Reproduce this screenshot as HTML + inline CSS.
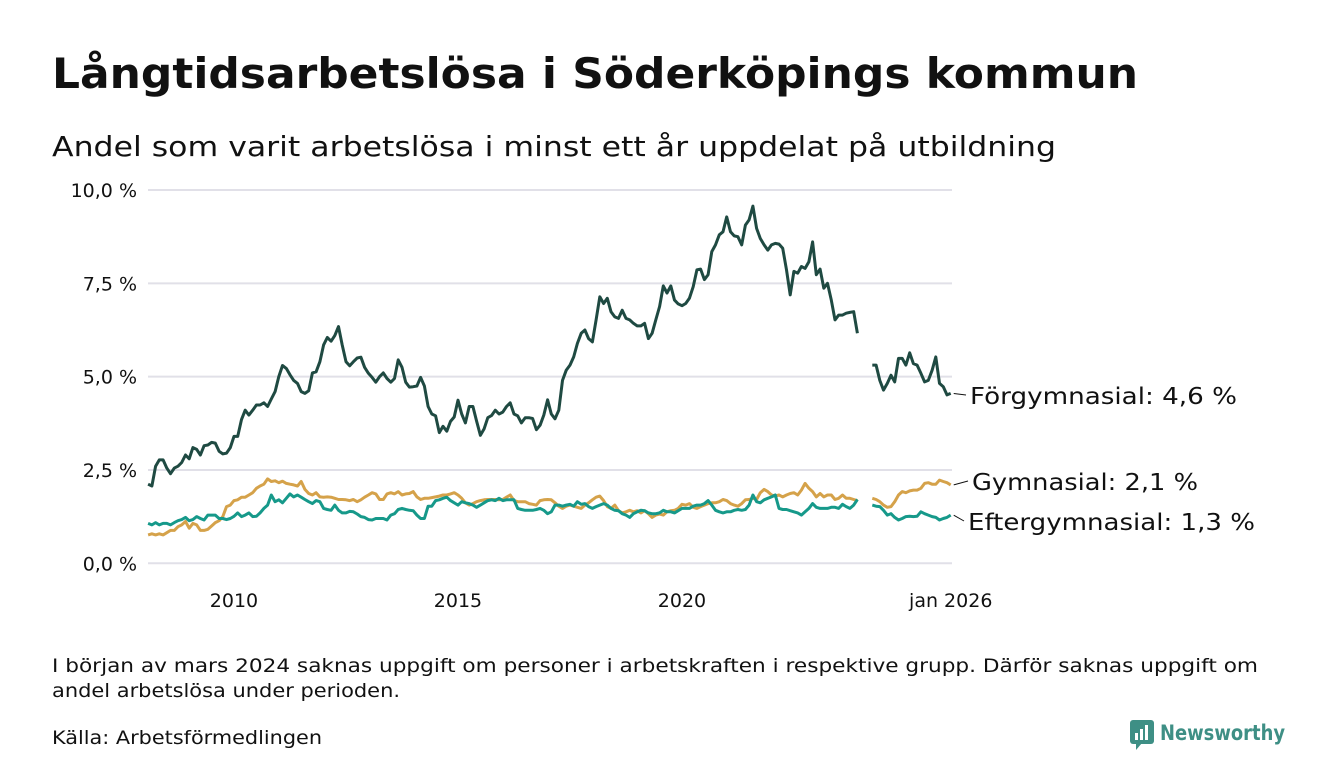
<!DOCTYPE html>
<html><head><meta charset="utf-8"><style>
body{margin:0;background:#fff;}
svg{display:block;font-family:"DejaVu Sans","Liberation Sans",sans-serif;}
</style></head><body>
<svg id="chart" width="1340" height="780" viewBox="0 0 1340 780" xmlns="http://www.w3.org/2000/svg">
<text x="52" y="88" font-size="42" font-weight="bold" fill="#111" textLength="1086" lengthAdjust="spacingAndGlyphs">Långtidsarbetslösa i Söderköpings kommun</text>
<text x="52" y="156" font-size="28" fill="#111" textLength="1004" lengthAdjust="spacingAndGlyphs">Andel som varit arbetslösa i minst ett år uppdelat på utbildning</text>
<g id="grid"></g>
<g id="yticks"></g>
<g id="xticks"></g>
<g id="series"></g>
<g id="labels"></g>
<text font-size="19" fill="#111"><tspan x="52" y="672" textLength="1206" lengthAdjust="spacingAndGlyphs">I början av mars 2024 saknas uppgift om personer i arbetskraften i respektive grupp. Därför saknas uppgift om</tspan><tspan x="52" y="697" textLength="348" lengthAdjust="spacingAndGlyphs">andel arbetslösa under perioden.</tspan></text>
<text x="52" y="744" font-size="19" fill="#111" textLength="270" lengthAdjust="spacingAndGlyphs">Källa: Arbetsförmedlingen</text>
<g>
<rect x="1130" y="720" width="24" height="24" rx="3" fill="#3e8f85"/>
<path d="M1136 743 L1136 750 L1142 743 Z" fill="#3e8f85"/>
<rect x="1135" y="733" width="3" height="7" fill="#fff"/><rect x="1140" y="729" width="3" height="11" fill="#fff"/><rect x="1145" y="725" width="3" height="15" fill="#fff"/>
<text x="1160" y="740" font-size="21" font-weight="bold" fill="#3e8f85" textLength="125" lengthAdjust="spacingAndGlyphs">Newsworthy</text>
</g>
</svg>
<script>
const yTicks = [0, 2.5, 5, 7.5, 10];
const yTickLabels = ["0,0 %", "2,5 %", "5,0 %", "7,5 %", "10,0 %"];
const xTickMonths = [24, 84, 144, 216];
const xTickLabels = ["2010", "2015", "2020", "jan 2026"];
const startMonth = 1; // months since Jan 2008 (Feb 2008)
const forgymnasial = [2.12,2.07,2.6,2.77,2.77,2.55,2.4,2.55,2.6,2.7,2.9,2.8,3.1,3.05,2.9,3.15,3.17,3.24,3.22,3.0,2.93,2.95,3.1,3.4,3.4,3.85,4.1,3.97,4.1,4.24,4.24,4.3,4.2,4.4,4.6,5.0,5.3,5.22,5.05,4.9,4.82,4.6,4.55,4.62,5.1,5.13,5.4,5.85,6.05,5.95,6.1,6.34,5.85,5.4,5.29,5.4,5.5,5.52,5.25,5.09,4.98,4.85,5.0,5.1,4.95,4.85,4.95,5.45,5.25,4.85,4.72,4.73,4.75,4.98,4.75,4.2,4.0,3.95,3.5,3.67,3.54,3.8,3.92,4.37,4.0,3.76,4.2,4.2,3.81,3.43,3.6,3.9,3.96,4.1,4.0,4.05,4.2,4.3,4.0,3.95,3.76,3.9,3.9,3.88,3.58,3.7,3.97,4.38,4.0,3.87,4.1,4.9,5.17,5.31,5.53,5.89,6.16,6.25,6.02,5.93,6.52,7.14,6.96,7.1,6.74,6.6,6.56,6.78,6.56,6.52,6.43,6.36,6.36,6.43,6.02,6.16,6.52,6.88,7.43,7.24,7.43,7.05,6.95,6.9,6.96,7.1,7.41,7.86,7.88,7.6,7.73,8.35,8.53,8.8,8.88,9.28,8.88,8.77,8.75,8.53,9.06,9.2,9.57,8.97,8.7,8.53,8.39,8.53,8.57,8.55,8.44,7.86,7.19,7.82,7.77,7.95,7.9,8.08,8.61,7.73,7.88,7.37,7.5,7.05,6.52,6.65,6.65,6.7,6.72,6.74,6.16,null,null,null,5.31,5.31,4.9,4.64,4.82,5.04,4.86,5.49,5.49,5.31,5.64,5.35,5.31,5.09,4.86,4.9,5.17,5.53,4.82,4.73,4.51,4.55];
const gymnasial = [0.76,0.79,0.76,0.79,0.76,0.82,0.88,0.88,0.98,1.03,1.12,0.94,1.07,1.03,0.88,0.88,0.91,1.0,1.09,1.14,1.25,1.52,1.56,1.68,1.7,1.77,1.77,1.83,1.89,2.01,2.07,2.12,2.26,2.19,2.21,2.16,2.2,2.14,2.12,2.1,2.07,2.19,1.98,1.87,1.83,1.89,1.78,1.77,1.78,1.77,1.74,1.71,1.71,1.7,1.68,1.71,1.65,1.7,1.77,1.83,1.89,1.86,1.71,1.71,1.86,1.89,1.86,1.92,1.83,1.86,1.87,1.92,1.78,1.71,1.74,1.74,1.76,1.78,1.8,1.83,1.83,1.86,1.89,1.83,1.74,1.62,1.56,1.6,1.65,1.68,1.7,1.71,1.71,1.71,1.7,1.71,1.77,1.83,1.68,1.65,1.65,1.65,1.6,1.58,1.56,1.68,1.7,1.71,1.7,1.62,1.53,1.47,1.53,1.56,1.53,1.5,1.47,1.56,1.62,1.7,1.77,1.8,1.68,1.52,1.47,1.56,1.41,1.35,1.38,1.42,1.38,1.41,1.35,1.41,1.33,1.23,1.29,1.32,1.29,1.38,1.41,1.42,1.47,1.58,1.56,1.6,1.5,1.47,1.52,1.56,1.6,1.62,1.62,1.65,1.71,1.68,1.6,1.56,1.53,1.6,1.7,1.71,1.74,1.71,1.89,1.98,1.92,1.83,1.8,1.83,1.78,1.83,1.87,1.89,1.83,1.96,2.14,2.01,1.92,1.78,1.87,1.78,1.83,1.83,1.71,1.74,1.83,1.74,1.74,1.71,1.68,null,null,null,1.74,1.71,1.65,1.56,1.5,1.52,1.65,1.83,1.92,1.89,1.94,1.96,1.96,2.01,2.14,2.16,2.12,2.12,2.23,2.19,2.16,2.1];
const eftergymnasial = [1.07,1.03,1.09,1.03,1.07,1.07,1.03,1.09,1.14,1.17,1.23,1.14,1.17,1.25,1.2,1.16,1.29,1.29,1.29,1.2,1.2,1.17,1.2,1.26,1.35,1.25,1.29,1.35,1.25,1.26,1.35,1.47,1.56,1.83,1.65,1.7,1.62,1.74,1.86,1.78,1.83,1.77,1.71,1.65,1.6,1.68,1.65,1.47,1.44,1.42,1.56,1.42,1.35,1.35,1.39,1.38,1.32,1.25,1.23,1.17,1.16,1.2,1.2,1.2,1.16,1.29,1.33,1.44,1.47,1.44,1.42,1.41,1.29,1.2,1.2,1.53,1.53,1.68,1.7,1.74,1.77,1.68,1.62,1.56,1.65,1.62,1.6,1.56,1.5,1.56,1.62,1.68,1.7,1.68,1.74,1.68,1.7,1.7,1.7,1.47,1.44,1.42,1.42,1.42,1.44,1.47,1.42,1.33,1.38,1.56,1.56,1.53,1.56,1.58,1.53,1.65,1.58,1.6,1.52,1.47,1.52,1.56,1.6,1.56,1.47,1.42,1.41,1.33,1.29,1.23,1.33,1.38,1.42,1.41,1.35,1.33,1.33,1.35,1.42,1.38,1.38,1.35,1.41,1.47,1.47,1.47,1.53,1.56,1.56,1.6,1.68,1.56,1.42,1.38,1.35,1.38,1.38,1.42,1.44,1.42,1.44,1.56,1.83,1.65,1.62,1.7,1.74,1.78,1.83,1.47,1.44,1.44,1.41,1.38,1.35,1.29,1.38,1.47,1.6,1.5,1.47,1.47,1.47,1.5,1.5,1.47,1.58,1.52,1.47,1.56,1.71,null,null,null,1.56,1.53,1.52,1.42,1.29,1.33,1.23,1.16,1.2,1.25,1.26,1.25,1.26,1.38,1.33,1.29,1.25,1.23,1.16,1.2,1.23,1.29];
const seriesNames = ["Förgymnasial", "Gymnasial", "Eftergymnasial"];
const lastLabels = ["Förgymnasial: 4,6 %", "Gymnasial: 2,1 %", "Eftergymnasial: 1,3 %"];

const NS = "http://www.w3.org/2000/svg";
const X0 = 144.4, MPX = 3.733, Y0 = 563.3, YPX = 37.33;
function xScale(m){ return X0 + m*MPX; }
function yScale(v){ return Y0 - v*YPX; }
function mk(tag, attrs, parent){ const e=document.createElementNS(NS,tag); for(const k in attrs) e.setAttribute(k,attrs[k]); parent.appendChild(e); return e; }

const grid=document.getElementById('grid'), yt=document.getElementById('yticks'), xt=document.getElementById('xticks');
yTicks.forEach((v,i)=>{
  const l=mk('line',{x1:148,x2:952,y1:yScale(v),y2:yScale(v),stroke:'#e1e0e8','stroke-width':2},grid);
  
  
  const t=mk('text',{x:137,y:yScale(v)+7,'text-anchor':'end','font-size':19,fill:'#111'},yt);
  t.textContent=yTickLabels[i];
  
  
});
xTickMonths.forEach((m,i)=>{
  const t=mk('text',{x:xScale(m),y:607,'text-anchor':'middle','font-size':19,fill:'#111'},xt);
  t.textContent=xTickLabels[i];
  
  
});
const colors=['#1f4a42','#d5a24a','#16998a'];
const data=[forgymnasial,gymnasial,eftergymnasial];
const sg=document.getElementById('series');
data.forEach((arr,si)=>{
  let d='', pen=false;
  arr.forEach((v,i)=>{
    if(v===null){pen=false;return;}
    d+=(pen?'L':'M')+xScale(startMonth+i).toFixed(1)+' '+yScale(v).toFixed(1)+' ';
    pen=true;
  });
  const p=mk('path',{d:d,fill:'none',stroke:colors[si],'stroke-width':3,'stroke-linejoin':'round'},sg);
  
  
});
const lg=document.getElementById('labels');
const labelY=[396,482,522], labelX=[970,972,968], labelW=[267,226,287];
data.forEach((arr,si)=>{
  const last=arr[arr.length-1];
  const ex=xScale(startMonth+arr.length-1)+3;
  const c=mk('line',{x1:ex,y1:yScale(last),x2:labelX[si]-4,y2:labelY[si]-1,stroke:'#111','stroke-width':1},lg);
  
  
  const t=mk('text',{x:labelX[si],y:labelY[si]+8,'font-size':23,fill:'#111',textLength:labelW[si],lengthAdjust:'spacingAndGlyphs'},lg);
  t.textContent=lastLabels[si];
  
  
});
</script>
</body></html>
